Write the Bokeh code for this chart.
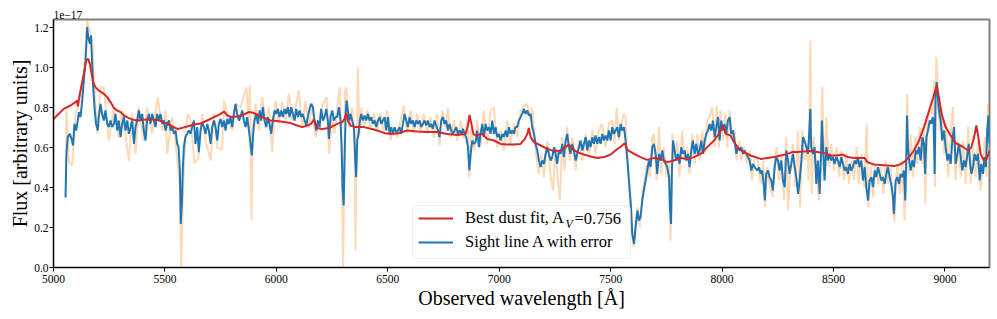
from bokeh.plotting import figure
from bokeh.models import (Range1d, FixedTicker, PrintfTickFormatter, Legend, LegendItem,
                          Label, BoxAnnotation)
from bokeh.embed import file_html
from bokeh.resources import INLINE

# ---- data (flux in units of 1e-17) ----
blue_wl = [5054,5058,5064,5073,5081,5088,5094,5102,5109,5114,5121,5129,5136,5144,5151,5156,5163,5168,5173,5178,
5185,5191,5199,5203,5211,5218,5226,5233,5241,5248,5256,5263,5271,5278,5286,5293,5301,5308,5316,5323,
5331,5338,5346,5353,5361,5368,5375,5383,5390,5398,5405,5413,5420,5428,5435,5443,5450,5458,5465,5473,
5480,5488,5495,5503,5510,5518,5525,5533,5540,5548,5555,5561,5567,5571,5576,5580,5585,5592,5600,5607,
5615,5622,5630,5637,
5645,5652,5660,5667,5675,5682,5690,5697,5705,5712,5720,5727,5735,5742,5750,5757,5765,5772,5780,5787,
5794,5802,5809,5817,5824,5832,5839,5847,5854,5862,5869,5877,5884,5890,5896,5902,5910,5917,5925,5932,
5940,5947,5955,5962,5969,5977,5984,5992,5999,6007,6014,6022,6029,6037,6044,6052,6059,6067,6074,6082,
6089,6097,6104,6112,6119,6127,6134,6141,6149,6156,6164,6171,6179,6186,6194,6201,6209,6216,6224,6231,
6236,6243,6251,6258,6266,
6273,6281,6288,6293,6297,6302,6306,6311,6315,6321,6327,6333,6340,6348,6354,6358,6363,6369,6375,6381,
6388,6396,6403,6411,6418,6426,6433,6441,6448,6456,6463,6471,6478,6486,6493,6501,6508,6515,6523,6530,
6538,6545,6553,6560,6568,6575,6583,6590,6598,6605,6613,6620,6628,6635,6643,6650,6658,6665,6673,6680,
6688,6695,6702,6710,6717,6725,6732,6740,6747,6755,6762,6770,6777,6785,6792,6800,6807,6815,6822,6830,
6837,6845,6852,6860,6866,6872,6879,6886,6894,
6901,6909,6916,6924,6931,6939,6946,6954,6961,6969,6976,6984,6991,6999,7006,7014,7021,7029,7036,7044,
7051,7059,7066,7073,7081,7088,7096,7103,7111,7118,7126,7133,7141,7148,7156,7163,7171,7178,7186,7193,
7201,7208,7216,7223,7231,7238,7246,7253,7260,7268,7275,7283,7290,7298,7305,7313,7320,7328,7335,7343,
7350,7358,7365,7373,7380,7388,7395,7403,7410,7418,7425,7432,7440,7447,7455,7462,7470,7477,7485,7492,
7500,7507,7515,7522,
7530,7537,7545,7552,7560,7567,7575,7582,7590,7597,7605,7612,7620,7627,7634,7642,7649,7657,7664,7672,
7679,7687,7694,7702,7709,7717,7724,7732,7739,7747,7754,7762,7766,7771,7775,7780,7787,7795,7802,7809,
7817,7824,7832,7839,7847,7854,7862,7869,7877,7884,7892,7899,7907,7914,7922,7929,7937,7944,7952,7959,
7967,7974,7982,7989,7996,8004,8011,8019,8026,8034,8041,8049,8056,8064,8071,8079,8086,8094,8101,8109,
8116,8124,8131,8139,8146,
8158,8166,8173,8180,8188,8192,8198,8206,8213,8221,8228,8236,8243,8251,8258,8266,8273,8281,8288,8296,
8303,8311,8318,8326,8333,8341,8348,8356,8363,8370,8378,8385,8391,8396,8400,8408,8415,8423,8430,8438,
8444,8448,8453,8460,8468,8475,8483,8490,8498,8505,8513,8520,8528,8535,8543,8550,8557,8565,8572,8580,
8587,8595,8602,8610,8617,8625,8632,8640,8647,8655,8662,8670,8677,8685,8692,8700,8707,8715,8722,8730,
8737,8744,8752,8759,8767,8771,8779,
8786,8794,8801,8809,8816,8822,8827,8830,8834,8840,8846,8854,8861,8869,8876,8884,8891,8899,8906,8911,
8917,8924,8932,8939,8945,8949,8954,8958,8963,8967,8973,8981,8988,8996,9003,9011,9018,9026,9033,9041,
9048,9056,9063,9071,9078,9086,9093,9101,9107,9113,9119,9126,9133,9141,9148,9156,9163,9171,9178,9184,
9190,9195,9200]

blue_flux = [0.35,0.568,0.652,0.668,0.643,0.61,0.718,0.685,0.735,0.777,0.752,0.835,0.935,1.035,1.202,1.152,1.118,1.16,1.035,0.902,
0.785,0.718,0.685,0.752,0.818,0.768,0.735,0.785,0.718,0.702,0.735,0.702,0.718,0.768,0.685,0.735,0.652,0.718,0.752,0.685,
0.735,0.668,0.702,0.735,0.618,0.702,0.735,0.785,0.735,0.768,0.685,0.635,0.735,0.768,0.718,0.768,0.735,0.702,0.768,0.735,
0.768,0.718,0.735,0.685,0.718,0.735,0.685,0.702,0.668,0.685,0.618,0.602,0.485,0.218,0.318,0.485,0.602,0.652,0.668,0.685,
0.668,0.702,0.735,0.618,
0.702,0.577,0.685,0.727,0.702,0.668,0.718,0.685,0.618,0.702,0.735,0.702,0.635,0.718,0.743,0.702,0.735,0.685,0.743,0.718,
0.752,0.702,0.768,0.818,0.768,0.735,0.752,0.785,0.735,0.702,0.752,0.685,0.618,0.56,0.668,0.735,0.768,0.718,0.785,0.735,
0.802,0.735,0.702,0.752,0.718,0.668,0.735,0.785,0.768,0.793,0.752,0.785,0.752,0.793,0.768,0.802,0.752,0.802,0.768,0.735,
0.793,0.752,0.785,0.752,0.768,0.735,0.71,0.752,0.793,0.818,0.802,0.735,0.685,0.735,0.702,0.793,0.735,0.752,0.793,0.735,
0.643,0.752,0.785,0.735,0.752,
0.752,0.802,0.735,0.602,0.402,0.31,0.535,0.768,0.835,0.785,0.735,0.768,0.735,0.702,0.535,0.452,0.635,0.668,0.735,0.768,
0.735,0.76,0.735,0.768,0.735,0.752,0.718,0.735,0.702,0.735,0.752,0.718,0.735,0.752,0.685,0.752,0.668,0.702,0.668,0.702,
0.677,0.685,0.702,0.668,0.718,0.768,0.735,0.702,0.752,0.718,0.735,0.702,0.735,0.718,0.735,0.702,0.718,0.735,0.71,0.735,
0.702,0.718,0.693,0.735,0.71,0.685,0.652,0.735,0.752,0.718,0.735,0.685,0.718,0.685,0.668,0.685,0.702,0.668,0.685,0.668,
0.693,0.668,0.652,0.602,0.485,0.568,0.635,0.618,0.627,
0.685,0.602,0.668,0.718,0.652,0.718,0.685,0.702,0.668,0.735,0.668,0.702,0.652,0.668,0.635,0.668,0.652,0.685,0.652,0.702,
0.668,0.685,0.668,0.702,0.702,0.735,0.752,0.768,0.793,0.768,0.785,0.76,0.768,0.702,0.668,0.618,0.585,0.535,0.502,0.535,
0.518,0.568,0.602,0.568,0.535,0.552,0.602,0.568,0.518,0.585,0.568,0.618,0.552,0.635,0.668,0.602,0.568,0.618,0.585,0.535,
0.568,0.602,0.635,0.585,0.618,0.652,0.585,0.635,0.602,0.652,0.618,0.66,0.618,0.652,0.618,0.668,0.635,0.66,0.635,0.685,
0.635,0.702,0.668,0.685,
0.702,0.652,0.718,0.685,0.702,0.635,0.535,0.435,0.318,0.168,0.118,0.202,0.285,0.235,0.252,0.335,0.385,0.435,0.485,0.535,
0.502,0.602,0.618,0.568,0.468,0.568,0.535,0.585,0.535,0.518,0.502,0.452,0.302,0.218,0.485,0.635,0.585,0.535,0.568,0.518,
0.602,0.568,0.585,0.535,0.568,0.502,0.585,0.635,0.568,0.618,0.568,0.585,0.635,0.568,0.635,0.668,0.685,0.718,0.685,0.735,
0.652,0.702,0.752,0.635,0.735,0.685,0.718,0.668,0.735,0.752,0.668,0.685,0.635,0.568,0.602,0.585,0.602,0.568,0.585,0.568,
0.552,0.535,0.485,0.518,0.502,
0.485,0.502,0.468,0.485,0.402,0.335,0.468,0.485,0.452,0.435,0.385,0.502,0.552,0.535,0.485,0.535,0.435,0.402,0.585,0.535,
0.468,0.518,0.568,0.502,0.452,0.368,0.435,0.535,0.652,0.635,0.602,0.568,0.668,0.793,0.602,0.568,0.602,0.418,0.535,0.368,
0.568,0.735,0.602,0.435,0.602,0.535,0.568,0.535,0.552,0.518,0.552,0.535,0.502,0.552,0.518,0.485,0.502,0.468,0.518,0.485,
0.502,0.535,0.518,0.552,0.502,0.535,0.435,0.502,0.402,0.335,0.435,0.452,0.402,0.485,0.452,0.502,0.468,0.435,0.452,0.418,
0.468,0.502,0.452,0.418,0.352,0.268,0.435,
0.452,0.418,0.468,0.452,0.485,0.335,0.568,0.76,0.602,0.535,0.485,0.535,0.502,0.585,0.568,0.602,0.535,0.652,0.618,0.468,
0.652,0.685,0.735,0.718,0.752,0.735,0.468,0.852,0.927,0.868,0.785,0.735,0.635,0.685,0.602,0.535,0.568,0.518,0.635,0.702,
0.518,0.568,0.618,0.552,0.485,0.535,0.502,0.568,0.618,0.518,0.468,0.502,0.568,0.535,0.568,0.435,0.518,0.468,0.552,0.502,
0.685,0.76,0.62]

err_wl = [5055,5058,5069,5084,5099,5121,5136,5151,5159,5173,5181,5196,5211,5226,5248,5271,5293,5308,5338,5353,
5368,5383,5405,5420,5443,5468,5488,5503,5510,5533,5548,5567,5573,5579,5592,5603,5615,5633,5650,
5667,5682,5705,5720,5735,5757,5765,5787,5802,5817,5839,5866,5874,5881,5889,5893,5907,5922,5937,5951,
5966,5981,5996,6011,6026,6041,6056,6071,6086,6101,6116,6131,6146,6161,6176,6191,6206,6225,6237,6251,6261,
6273,6285,6293,6299,6303,6308,6315,6326,6340,6351,6355,6360,6366,6372,6381,6393,6408,6423,6438,6453,
6468,6483,6498,6512,6527,6542,6557,6572,6587,6602,6617,6632,6647,6662,6677,6692,6707,6722,6732,6744,
6759,6770,6782,6797,6812,6827,6842,6857,6866,6875,6889,
6901,6916,6931,6946,6961,6976,6991,7006,7021,7036,7051,7066,7081,7096,7111,7126,7141,7148,7163,7178,
7189,7201,7216,7231,7241,7253,7263,7272,7283,7293,7305,7316,7328,7343,7358,7373,7388,7403,7418,7432,
7447,7462,7477,7492,7507,7518,
7527,7537,7552,7560,7567,7575,7582,7593,7602,7612,7622,7631,7642,7652,7664,7676,7687,7694,7706,7717,
7727,7739,7751,7762,7769,7777,7787,7799,7809,7821,7832,7844,7854,7866,7877,7889,7899,7911,7922,7934,
7944,7956,7967,7976,7986,7993,8004,8013,8023,8034,8046,8056,8065,8076,8086,8098,8113,8124,8134,8146,
8158,8173,8185,8192,8203,8215,8227,8236,8245,8257,8266,8278,8288,8296,8308,8318,8330,8341,8350,8360,
8370,8382,8388,8396,8402,8412,8424,8435,8442,8450,8457,8468,8480,8490,8502,8514,8525,8535,8547,8559,
8569,8580,8592,8604,8614,8626,8637,8649,8656,8667,8677,8689,8701,8712,8724,8734,8744,8756,8767,8773,8779,
8786,8798,8809,8819,8827,8831,8837,8846,8857,8866,8876,8887,8897,8906,8912,8921,8933,8944,8951,8955,
8961,8969,8976,8985,8996,9006,9015,9026,9036,9047,9059,9071,9081,9093,9104,9116,9126,9138,9148,9160,
9171,9180,9187,9193,9199]

err_flux = [0.45,0.79,0.53,0.51,0.77,0.84,0.95,1.235,1.2,1.15,0.95,0.67,0.9,0.9,0.635,0.8,0.65,0.785,0.535,0.77,
0.57,0.8,0.635,0.8,0.67,0.85,0.685,0.785,0.57,0.75,0.62,0.4,-0.01,0.3,0.685,0.77,0.735,0.52,0.55,
0.77,0.635,0.535,0.77,0.6,0.59,0.835,0.735,0.685,0.82,0.8,0.9,0.735,0.91,0.235,0.685,0.82,0.685,0.852,0.7,
0.8,0.577,0.835,0.72,0.827,0.735,0.868,0.735,0.8,0.885,0.7,0.835,0.7,0.82,0.65,0.735,0.81,0.852,0.568,0.75,0.67,
0.8,0.9,0.535,0.0,0.3,0.885,0.9,0.7,0.8,0.62,0.085,0.57,1.0,0.65,0.8,0.7,0.785,0.7,0.77,0.685,
0.77,0.67,0.785,0.635,0.7,0.65,0.735,0.81,0.67,0.785,0.67,0.77,0.67,0.77,0.67,0.75,0.65,0.77,0.61,0.785,
0.7,0.8,0.65,0.735,0.635,0.735,0.643,0.735,0.452,0.7,0.585,
0.735,0.6,0.785,0.618,0.785,0.8,0.6,0.685,0.585,0.735,0.618,0.718,0.652,0.785,0.81,0.818,0.735,0.8,0.585,0.468,
0.568,0.452,0.635,0.452,0.385,0.602,0.435,0.335,0.652,0.485,0.702,0.535,0.652,0.485,0.635,0.535,0.668,0.568,0.685,0.568,
0.685,0.718,0.602,0.718,0.735,0.618,
0.8,0.635,0.735,0.768,0.752,0.568,0.452,0.302,0.102,0.235,0.302,0.202,0.368,0.435,0.518,0.452,0.652,0.668,0.435,0.702,
0.468,0.602,0.452,0.535,0.135,0.668,0.535,0.635,0.452,0.685,0.535,0.602,0.468,0.668,0.518,0.668,0.535,0.685,0.568,0.735,
0.752,0.802,0.602,0.81,0.602,0.785,0.635,0.768,0.602,0.785,0.652,0.685,0.535,0.635,0.535,0.602,0.518,0.585,0.435,0.552,
0.552,0.418,0.535,0.302,0.502,0.402,0.352,0.535,0.602,0.435,0.568,0.335,0.652,0.285,0.535,0.618,0.402,0.685,0.302,0.685,
0.535,0.602,0.435,1.135,0.368,0.652,0.468,0.335,0.535,0.902,0.435,0.752,0.502,0.618,0.485,0.602,0.452,0.585,0.435,0.568,
0.418,0.535,0.435,0.602,0.418,0.568,0.402,0.718,0.302,0.502,0.352,0.518,0.418,0.502,0.368,0.535,0.418,0.502,0.302,0.23,0.402,
0.52,0.368,0.535,0.235,0.602,0.868,0.468,0.668,0.452,0.652,0.518,0.702,0.518,0.702,0.318,0.718,0.802,0.768,0.935,0.402,
1.052,0.902,0.685,0.802,0.568,0.718,0.452,0.668,0.802,0.435,0.635,0.452,0.635,0.418,0.702,0.418,0.602,0.452,0.635,0.385,
0.535,0.652,0.452,0.818,0.718]

fit_wl = [4987,5016,5046,5076,5099,5106,5109,5114,5124,5136,5147,5156,5163,5171,5178,5188,5203,5226,5241,5256,
5271,5286,5301,5316,5338,5361,5383,5413,5435,5465,5495,5525,5555,5577,5600,5630,5660,5690,5720,5750,
5765,5780,5802,5824,5854,5877,5899,5922,5944,5974,6004,6034,6064,6094,6116,6139,6156,6168,6183,6206,
6236,6273,6296,6306,6314,6321,6333,6355,6393,6438,6483,6512,6542,6587,6632,6677,6722,6767,6812,6849,
6860,6867,6875,6884,6894,6924,6946,6976,7006,7036,7066,7096,7115,7126,7133,7141,7156,7186,7216,7246,
7275,7298,7313,7328,7350,7380,7410,7440,7470,7500,7522,7540,7552,7563,7575,7605,7634,7664,7694,7724,
7754,7784,7814,7844,7874,7904,7934,7964,7986,8004,8016,8038,8053,8076,8098,8128,8151,8173,8203,8233,
8263,8293,8315,8338,8367,8397,8427,8457,8487,8517,8540,8562,8592,8622,8640,8652,8682,8712,8742,8771,
8794,8816,8839,8861,8884,8906,8929,8948,8963,8973,8985,9003,9026,9048,9078,9104,9119,9131,9141,9150,
9160,9175,9187,9201]

fit_flux = [0.73,0.76,0.793,0.81,0.827,0.835,0.805,0.843,0.902,0.968,1.038,1.043,1.018,0.968,0.927,0.902,0.885,0.868,0.852,0.827,
0.798,0.785,0.777,0.76,0.747,0.738,0.735,0.74,0.74,0.738,0.727,0.71,0.693,0.698,0.705,0.715,0.72,0.735,0.752,0.768,
0.78,0.76,0.752,0.755,0.765,0.777,0.772,0.76,0.748,0.735,0.732,0.727,0.722,0.71,0.702,0.71,0.718,0.74,0.698,0.693,
0.697,0.718,0.727,0.743,0.772,0.735,0.71,0.702,0.702,0.69,0.673,0.667,0.67,0.685,0.68,0.678,0.677,0.668,0.663,0.668,
0.71,0.763,0.718,0.668,0.66,0.668,0.643,0.635,0.618,0.615,0.615,0.618,0.643,0.668,0.698,0.652,0.627,0.61,0.593,0.582,
0.585,0.602,0.615,0.593,0.577,0.565,0.555,0.548,0.552,0.565,0.585,0.6,0.61,0.622,0.588,0.568,0.552,0.538,0.548,0.543,
0.527,0.535,0.548,0.543,0.552,0.568,0.602,0.635,0.668,0.71,0.668,0.66,0.627,0.593,0.577,0.56,0.552,0.543,0.548,0.552,
0.56,0.568,0.577,0.577,0.58,0.582,0.577,0.572,0.56,0.56,0.565,0.553,0.548,0.548,0.547,0.527,0.515,0.513,0.51,0.507,
0.513,0.527,0.552,0.585,0.635,0.702,0.785,0.852,0.91,0.852,0.768,0.702,0.66,0.622,0.605,0.585,0.602,0.652,0.71,0.652,
0.568,0.535,0.543,0.585]

x_ticks = [5000, 5500, 6000, 6500, 7000, 7500, 8000, 8500, 9000]
y_ticks = [0.0, 0.2, 0.4, 0.6, 0.8, 1.0, 1.2]
fit_label = "Best dust fit, A"
fit_sub = "V"
fit_value = "=0.756"
data_label = "Sight line A with error"
scale_text = "1e\u221217"

SERIF = "Liberation Serif"

p = figure(width=993, height=319, output_backend="svg", toolbar_location=None,
           x_range=Range1d(5000, 9200), y_range=Range1d(0, 1.24),
           min_border_left=53, min_border_right=4, min_border_top=19, min_border_bottom=52)
p.background_fill_color = "white"
p.border_fill_color = "white"
p.outline_line_color = "#808080"
p.outline_line_width = 2
p.xgrid.visible = False
p.ygrid.visible = False

p.title.text = scale_text
p.title.align = "left"
p.title.offset = 0
p.title.standoff = 2
p.title.text_font = SERIF
p.title.text_font_size = "11.5px"
p.title.text_font_style = "normal"
p.title.text_color = "black"
p.title.text_line_height = 0.9

r_err = p.line(err_wl, err_flux, line_color="#ff7f0e", line_alpha=0.3, line_width=2)
r_blue = p.line(blue_wl, blue_flux, line_color="#1f77b4", line_width=2)
r_red = p.line(fit_wl, fit_flux, line_color="#d62728", line_width=2)

for ax in (p.xaxis[0], p.yaxis[0]):
    ax.axis_line_color = "black"
    ax.axis_line_width = 1
    ax.major_tick_line_color = "black"
    ax.major_tick_in = 0
    ax.major_tick_out = 4
    ax.minor_tick_line_color = None
    ax.major_label_text_font = SERIF
    ax.major_label_text_font_size = "11.5px"
    ax.major_label_text_color = "black"
    ax.axis_label_text_font = SERIF
    ax.axis_label_text_font_size = "20px"
    ax.axis_label_text_font_style = "normal"
    ax.axis_label_text_color = "black"

p.xaxis.ticker = FixedTicker(ticks=x_ticks)
p.yaxis.ticker = FixedTicker(ticks=y_ticks)
p.yaxis.formatter = PrintfTickFormatter(format="%.1f")
p.xaxis.axis_label = "Observed wavelength [\u00c5]"
p.yaxis.axis_label = "Flux [arbitrary units]"
p.xaxis.major_label_standoff = 3
p.xaxis.axis_label_standoff = 1
p.yaxis.major_label_standoff = 1
p.yaxis.axis_label_standoff = 0

box = BoxAnnotation(left=359, right=577, bottom=9, top=62,
                    left_units="screen", right_units="screen", top_units="screen", bottom_units="screen",
                    fill_color="white", fill_alpha=0.8, line_color="#cccccc", line_width=1,
                    border_radius=4)
p.add_layout(box)

legend = Legend(items=[LegendItem(label=fit_label, renderers=[r_red]),
                       LegendItem(label=data_label, renderers=[r_blue])],
                location=(360, 10), padding=5, spacing=4, margin=0,
                glyph_width=35, glyph_height=20, label_height=20, label_standoff=12,
                label_text_font=SERIF, label_text_font_size="16.5px", label_text_color="black",
                background_fill_alpha=0, border_line_alpha=0)
p.add_layout(legend, "center")

p.add_layout(Label(x=512, y=44, x_units="screen", y_units="screen", text=fit_sub,
                   text_font=SERIF, text_font_size="12px", text_font_style="italic",
                   text_baseline="middle", text_color="black"))
p.add_layout(Label(x=521, y=49, x_units="screen", y_units="screen", text=fit_value,
                   text_font=SERIF, text_font_size="16.5px",
                   text_baseline="middle", text_color="black"))

open("out.html", "w").write(file_html(p, INLINE))
